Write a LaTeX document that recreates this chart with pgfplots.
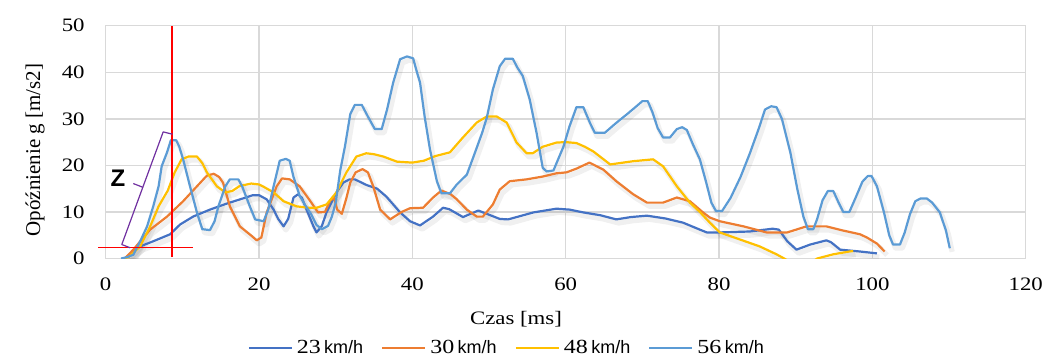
\documentclass[border=0pt]{standalone}
\usepackage{fontspec}
\setmainfont[FakeStretch=1.2]{Liberation Serif}
\setsansfont{Liberation Sans}
\newfontfamily\plainserif{Liberation Serif}
\usepackage{pgfplots}
\pgfplotsset{compat=1.18}
\usepackage{pgfplotstable}
\definecolor{cA}{HTML}{4472C4}
\definecolor{cB}{HTML}{ED7D31}
\definecolor{cC}{HTML}{FFC000}
\definecolor{cD}{HTML}{5B9BD5}
\definecolor{gridc}{HTML}{D9D9D9}
\definecolor{brk}{HTML}{7030A0}

\pgfplotstableread{
x y
2.5 0
2.8 0.4
4.5 2.6
6.2 3.7
8.4 5.2
9.7 7.3
11.4 9.0
13.6 10.5
15.8 11.8
17.9 12.9
19.2 13.6
20.0 13.6
21.0 12.7
21.9 10.5
22.5 8.5
23.2 6.9
23.8 8.5
24.5 13.1
25.1 13.8
25.6 13.0
26.2 10.5
27.1 6.9
27.5 5.6
28.2 7.0
28.8 9.9
30.1 14.2
31.0 16.3
31.8 17.0
32.5 17.0
34.0 15.8
35.4 15.0
36.6 13.3
37.4 11.8
38.4 9.9
39.7 8.0
41.0 7.1
42.7 9.0
44.0 10.9
44.8 10.6
46.6 8.9
48.6 10.3
49.7 9.6
51.4 8.5
52.5 8.4
55.8 9.9
58.8 10.7
60.5 10.5
62.3 9.9
64.5 9.3
66.6 8.4
68.5 8.9
70.6 9.2
73.0 8.6
75.3 7.7
77.5 6.2
78.4 5.6
80.1 5.6
84.0 5.8
87.0 6.4
87.8 6.2
88.9 3.7
90.1 1.9
91.9 3.0
94.0 3.9
94.6 3.5
95.8 1.9
98.4 1.5
100.6 1.1
}\tA

\pgfplotstableread{
x y
2.5 0
3.6 1.9
5.8 6.2
8.0 9.0
10.1 12.3
11.9 15.5
13.2 17.8
14.1 18.2
14.8 17.5
15.3 16.3
16.2 11.2
17.5 6.9
19.0 4.9
19.7 3.9
20.3 4.5
21.0 9.9
22.3 15.5
23.0 17.2
24.0 17.0
25.3 15.5
26.7 12.3
27.7 9.9
28.6 10.0
29.3 12.5
29.8 13.0
30.2 10.5
30.8 9.6
31.4 13.0
31.9 16.3
32.6 18.5
33.5 19.2
34.2 18.5
34.9 15.5
35.8 10.5
37.1 8.4
38.6 10.0
39.7 10.8
41.4 10.9
42.7 13.1
43.8 14.6
45.0 13.8
45.8 12.7
47.1 10.5
48.4 9.0
49.2 9.0
50.5 11.6
51.4 14.8
52.7 16.6
54.9 17.0
57.0 17.6
58.8 18.3
60.1 18.5
61.4 19.3
63.1 20.6
64.9 19.1
66.6 16.6
68.8 13.8
70.6 12.0
72.7 12.0
74.5 13.1
76.2 12.3
77.9 9.9
78.8 8.8
80.1 8.0
83.2 6.9
86.2 5.6
88.9 5.6
91.4 6.9
94.0 6.9
96.2 6.0
98.4 5.2
99.3 4.5
100.6 3.2
101.6 1.5
}\tB

\pgfplotstableread{
x y
2.3 0
3.0 0.3
4.5 2.6
5.8 6.9
6.9 11.2
8.1 14.6
9.0 18.5
9.9 21.3
10.8 21.9
11.9 21.9
12.6 20.5
13.2 18.5
14.5 15.5
15.6 14.2
16.5 14.5
17.5 15.6
19.0 16.1
20.0 15.9
20.5 15.5
21.9 14.2
23.2 12.3
24.9 11.2
26.5 10.9
27.5 10.9
28.8 11.6
30.1 14.2
31.4 18.5
32.7 21.9
34.0 22.6
35.0 22.4
36.2 21.9
38.0 20.8
40.0 20.6
41.5 21.0
43.0 22.0
44.9 22.8
46.6 26.0
48.4 29.2
49.7 30.5
51.0 30.5
52.3 29.2
53.6 24.9
54.9 22.6
55.7 22.6
57.0 24.0
58.8 24.9
60.0 25.0
61.4 24.8
62.5 24.0
63.6 23.0
65.8 20.2
68.8 20.9
71.4 21.3
72.7 19.8
74.5 15.5
76.2 12.0
77.5 10.0
78.8 7.7
80.1 5.6
82.7 4.1
85.3 2.6
87.5 0.9
88.5 0
90.0 -1.5
91.5 -1.5
92.8 0
94.9 0.9
97.0 1.5
97.5 1.6
}\tC

\pgfplotstableread{
x y
2.0 0
2.8 0.3
3.6 0.8
4.5 3.7
5.4 6.9
6.2 11.2
6.9 15.5
7.3 19.8
8.0 22.8
8.5 25.4
9.2 25.4
9.6 24.0
10.1 21.3
11.0 15.5
11.9 9.9
12.6 6.3
13.6 6.1
14.2 8.0
14.7 11.2
15.6 15.5
16.2 17.0
17.3 17.0
17.8 15.5
18.8 11.2
19.5 8.4
20.6 8.0
21.2 10.5
21.9 15.5
22.7 21.0
23.5 21.4
24.0 21.0
24.5 17.5
25.3 13.5
26.0 11.5
26.8 9.5
27.5 7.2
28.2 6.3
29.0 7.0
29.5 9.0
30.0 12.0
30.6 19.0
31.2 24.0
31.9 31.0
32.5 33.0
33.4 33.0
34.2 30.5
35.1 27.8
36.0 27.8
36.7 32.0
37.5 37.8
38.4 42.8
39.3 43.4
40.1 43.0
40.6 40.0
41.0 37.8
41.6 30.5
42.3 23.4
43.2 16.6
43.8 14.0
44.9 14.0
45.8 15.9
47.1 18.0
48.0 22.0
49.1 27.0
49.7 30.2
50.5 36.3
51.4 41.3
52.1 42.9
53.1 42.9
53.7 41.0
54.4 39.2
55.3 34.2
56.2 27.0
57.0 19.5
57.5 18.7
58.4 18.9
59.7 24.0
60.5 28.4
61.4 32.5
62.3 32.5
63.2 29.0
63.8 27.0
65.1 27.0
66.5 29.0
68.0 31.0
69.3 32.8
70.0 33.8
70.7 33.8
71.3 31.5
72.0 28.0
72.7 26.0
73.6 26.0
74.5 27.8
75.2 28.2
75.8 27.6
76.6 24.5
77.5 21.3
78.3 16.5
79.0 12.0
79.6 10.2
80.4 10.2
81.5 13.0
82.8 17.5
84.0 22.5
85.2 28.0
86.0 32.0
86.8 32.7
87.5 32.5
88.2 30.0
89.3 22.8
90.2 15.0
91.0 9.0
91.6 6.3
92.3 6.3
92.8 8.5
93.5 12.5
94.2 14.5
94.9 14.5
95.6 12.0
96.2 10.0
97.0 10.0
97.8 13.0
98.7 16.5
99.4 17.7
99.9 17.7
100.6 15.5
101.5 10.0
102.2 5.0
102.7 3.0
103.6 3.0
104.2 5.5
104.9 9.5
105.6 12.3
106.3 12.9
107.1 12.9
107.8 12.0
108.8 9.9
109.6 6.0
110.1 2.2
}\tD

\begin{document}
\begin{tikzpicture}
\begin{axis}[
  scale only axis, width=460pt, height=116.4pt,
  xmin=0, xmax=120, ymin=0, ymax=50,
  xtick={0,20,...,120}, ytick={0,10,...,50},
  grid=major, major grid style={draw=gridc, line width=0.7pt},
  axis line style={draw=gridc, line width=0.7pt},
  tick style={draw=none},
  /pgf/number format/assume math mode=true,
  ticklabel style={font=\fontsize{9.5}{11}\selectfont},
  xticklabel style={yshift=-6pt},
  yticklabel style={xshift=-7pt},
  xlabel={Czas [ms]},
  xlabel style={at={([yshift=-23pt]rel axis cs:0.446,0)}, anchor=north, font=\fontsize{9.5}{11}\selectfont},
  ylabel={\plainserif Opóźnienie g [m/s2]},
  ylabel style={at={([xshift=-35.3pt,yshift=-4pt]rel axis cs:0,0.5)}, anchor=center, font=\fontsize{10.5}{12}\selectfont},
  legend style={at={([yshift=-44.75pt]rel axis cs:0.437,0)}, anchor=center, draw=none, fill=none,
    font=\fontsize{10}{12}\selectfont, inner sep=0pt, /tikz/every even column/.append style={column sep=7pt}},
  legend columns=4,
  legend image code/.code={\draw[#1] (0pt,0pt) -- (21.5pt,0pt);},
  shadowed/.style={black, opacity=0.06, line width=2.6pt, xshift=1.2pt, yshift=-1.8pt, forget plot},
  every axis plot/.append style={line join=round},
]
\addplot[shadowed] table {\tA};
\addplot[shadowed] table {\tB};
\addplot[shadowed] table {\tC};
\addplot[shadowed] table {\tD};
\addplot[cA, line width=1.1pt] table {\tA};
\addlegendentry{23\,{\sffamily\fontsize{9}{10}\selectfont km/h}}
\addplot[cB, line width=1.1pt] table {\tB};
\addlegendentry{30\,{\sffamily\fontsize{9}{10}\selectfont km/h}}
\addplot[cC, line width=1.1pt] table {\tC};
\addlegendentry{48\,{\sffamily\fontsize{9}{10}\selectfont km/h}}
\addplot[cD, line width=1.1pt] table {\tD};
\addlegendentry{56\,{\sffamily\fontsize{9}{10}\selectfont km/h}}
\coordinate (v1) at (axis cs:8.65,0.3);
\coordinate (v2) at (axis cs:8.65,49.9);
\coordinate (h1) at (axis cs:-0.97,2.3);
\coordinate (h2) at (axis cs:11.35,2.3);
\coordinate (b1) at (axis cs:3.2,2.3);
\coordinate (b2) at (axis cs:2.1,3.0);
\coordinate (b3) at (axis cs:4.84,15.3);
\coordinate (b4) at (axis cs:3.6,16.1);
\coordinate (b5) at (axis cs:7.5,27.2);
\coordinate (b6) at (axis cs:8.7,26.7);
\coordinate (zl) at (axis cs:1.6,17.2);
\end{axis}
\draw[red, line width=0.6pt] (v1) -- (v2);
\draw[red, line width=0.6pt] (h1) -- (h2);
\draw[brk, line width=0.6pt, line join=round] (b1) -- (b2) -- (b3) -- (b4);
\draw[brk, line width=0.6pt, line join=round] (b3) -- (b5) -- (b6);
\node[font=\sffamily\bfseries\fontsize{12}{14}\selectfont] at (zl) {Z};
\pgfresetboundingbox
\path (-52.85pt,-50.75pt) rectangle (469.65pt,129.25pt);
\end{tikzpicture}
\end{document}
